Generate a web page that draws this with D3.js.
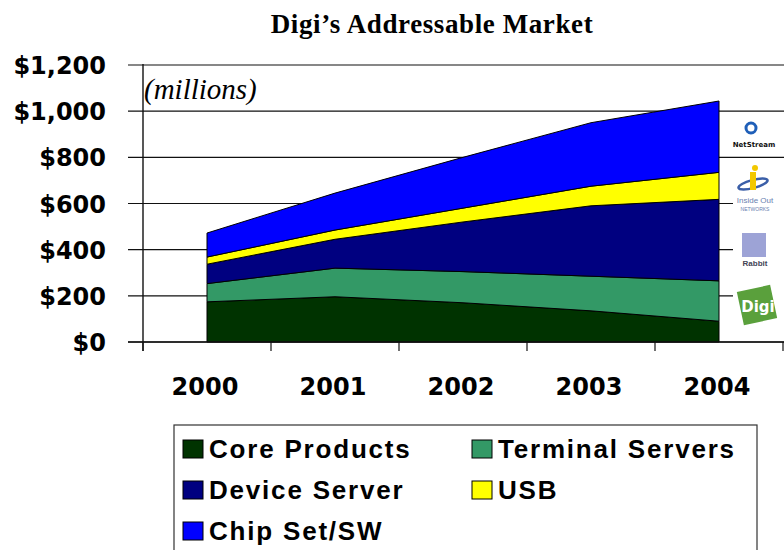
<!DOCTYPE html>
<html>
<head>
<meta charset="utf-8">
<script src="https://cdn.jsdelivr.net/npm/d3@7"></script>
<style>
  body { margin: 0; background: #fff; }
  svg { display: block; }
</style>
</head>
<body>
<svg width="784" height="550"></svg>
<script>
// values, $ millions
const years = ["2000", "2001", "2002", "2003", "2004"];
const coreProducts = [174, 196, 170, 135, 90];
const terminalServers = [79, 124, 135, 150, 175];
const deviceServer = [84, 125, 215, 305, 353];
const usb = [31, 40, 60, 85, 117];
const chipSetSW = [104, 160, 220, 275, 309];
const yTicks = [0, 200, 400, 600, 800, 1000, 1200];
const seriesNames = ["Core Products", "Terminal Servers", "Device Server", "USB", "Chip Set/SW"];
const seriesColors = ["#003300", "#339966", "#000080", "#ffff00", "#0000ff"];

const svg = d3.select("svg");

// rows for d3.stack
const rows = years.map((y, i) => ({
  year: y,
  "Core Products": coreProducts[i],
  "Terminal Servers": terminalServers[i],
  "Device Server": deviceServer[i],
  "USB": usb[i],
  "Chip Set/SW": chipSetSW[i]
}));

const x = d3.scaleBand().domain(years).range([143, 783]);
const y = d3.scaleLinear().domain([0, 1200]).range([342, 65]);
const xc = d => x(d.data.year) + x.bandwidth() / 2;

// title
svg.append("text")
  .attr("x", 432).attr("y", 33)
  .attr("text-anchor", "middle")
  .style("font-family", "'Liberation Serif', 'Times New Roman', serif")
  .style("font-weight", "bold")
  .style("font-size", "27px")
  .style("letter-spacing", "0.6px")
  .text("Digi\u2019s Addressable Market");

// gridlines + left tick marks
svg.append("g").selectAll("line")
  .data(yTicks)
  .enter().append("line")
  .attr("x1", 128).attr("x2", 784)
  .attr("y1", d => y(d)).attr("y2", d => y(d))
  .attr("stroke", "#111").attr("stroke-width", 1.2);

// y labels
svg.append("g").selectAll("text")
  .data(yTicks)
  .enter().append("text")
  .attr("x", 106).attr("y", d => y(d) + 9)
  .attr("text-anchor", "end")
  .style("font-family", "'DejaVu Sans', sans-serif")
  .style("font-weight", "bold")
  .style("font-size", "24px")
  .text(d => d3.format("$,")(d));

// stacked areas
const stack = d3.stack().keys(seriesNames)(rows);
const area = d3.area()
  .x(xc)
  .y0(d => y(d[0]))
  .y1(d => y(d[1]));

svg.append("g").selectAll("path")
  .data(stack)
  .enter().append("path")
  .attr("d", area)
  .attr("fill", (d, i) => seriesColors[i])
  .attr("stroke", "#000")
  .attr("stroke-width", 1);

// logo panel at the right edge (covers part of the grid)
const logos = svg.append("g");
logos.append("rect")
  .attr("x", 733).attr("y", 164).attr("width", 51).attr("height", 176)
  .attr("fill", "#fff");
// NetStream
logos.append("circle").attr("cx", 751).attr("cy", 128).attr("r", 5)
  .attr("fill", "none").attr("stroke", "#1f5fb8").attr("stroke-width", 3);
logos.append("text").attr("x", 754).attr("y", 147).attr("text-anchor", "middle")
  .style("font-family", "'DejaVu Sans', sans-serif").style("font-weight", "bold")
  .style("font-size", "7px").attr("fill", "#111").text("NetStream");
// Inside Out Networks
logos.append("ellipse").attr("cx", 753).attr("cy", 184).attr("rx", 15).attr("ry", 4)
  .attr("fill", "none").attr("stroke", "#3b5fa8").attr("stroke-width", 2.5)
  .attr("transform", "rotate(-15 753 184)");
logos.append("rect").attr("x", 750).attr("y", 172).attr("width", 6).attr("height", 18)
  .attr("fill", "#f2c800");
logos.append("circle").attr("cx", 755).attr("cy", 168).attr("r", 3).attr("fill", "#f2c800");
logos.append("text").attr("x", 755).attr("y", 203).attr("text-anchor", "middle")
  .style("font-family", "'Liberation Sans', sans-serif")
  .style("font-size", "8px").attr("fill", "#6a7fb0").text("Inside Out");
logos.append("text").attr("x", 755).attr("y", 211).attr("text-anchor", "middle")
  .style("font-family", "'Liberation Sans', sans-serif")
  .style("font-size", "5px").attr("fill", "#6a7fb0").text("NETWORKS");
// square logo
logos.append("rect").attr("x", 742).attr("y", 233).attr("width", 24).attr("height", 24)
  .attr("fill", "#9da3d6");
logos.append("text").attr("x", 755).attr("y", 266).attr("text-anchor", "middle")
  .style("font-family", "'Liberation Sans', sans-serif").style("font-weight", "bold")
  .style("font-size", "8px").attr("fill", "#445").text("Rabbit");
// Digi
logos.append("rect").attr("x", 740).attr("y", 288).attr("width", 34).attr("height", 34)
  .attr("fill", "#5aa03c").attr("transform", "rotate(-12 757 305)");
logos.append("text").attr("x", 758).attr("y", 312).attr("text-anchor", "middle")
  .style("font-family", "'DejaVu Sans', sans-serif").style("font-weight", "bold")
  .style("font-size", "15px").attr("fill", "#fff").text("Digi");

// axes lines
svg.append("line").attr("x1", 143).attr("x2", 143).attr("y1", 64).attr("y2", 351)
  .attr("stroke", "#111").attr("stroke-width", 1.4);
svg.append("line").attr("x1", 128).attr("x2", 784).attr("y1", y(0)).attr("y2", y(0))
  .attr("stroke", "#111").attr("stroke-width", 1.4);

// x tick marks at category boundaries
const bounds = years.map(d => x(d)).concat([x.range()[1]]);
svg.append("g").selectAll("line")
  .data(bounds)
  .enter().append("line")
  .attr("x1", d => d).attr("x2", d => d)
  .attr("y1", y(0)).attr("y2", y(0) + 9)
  .attr("stroke", "#111").attr("stroke-width", 1.2);

// x labels
svg.append("g").selectAll("text")
  .data(years)
  .enter().append("text")
  .attr("x", d => x(d) + x.bandwidth() / 2 - 2)
  .attr("y", 395)
  .attr("text-anchor", "middle")
  .style("font-family", "'DejaVu Sans', sans-serif")
  .style("font-weight", "bold")
  .style("font-size", "24px")
  .text(d => d);

// (millions)
svg.append("text")
  .attr("x", 144).attr("y", 99)
  .style("font-family", "'Liberation Serif', 'Times New Roman', serif")
  .style("font-style", "italic")
  .style("font-size", "29px")
  .text("(millions)");

// legend
const legend = svg.append("g");
legend.append("rect")
  .attr("x", 174).attr("y", 425).attr("width", 583).attr("height", 140)
  .attr("fill", "#fff").attr("stroke", "#333").attr("stroke-width", 1.2);

const legendPos = [[183, 458], [472, 458], [183, 499], [472, 499], [183, 540]];
const items = legend.selectAll("g.item")
  .data(seriesNames)
  .enter().append("g")
  .attr("class", "item")
  .attr("transform", (d, i) => `translate(${legendPos[i][0]},${legendPos[i][1]})`);

items.append("rect")
  .attr("x", 0).attr("y", -18).attr("width", 20).attr("height", 18)
  .attr("fill", (d, i) => seriesColors[i])
  .attr("stroke", "#000").attr("stroke-width", 1);

items.append("text")
  .attr("x", 26).attr("y", 0)
  .style("font-family", "'Liberation Sans', Arial, sans-serif")
  .style("font-weight", "bold")
  .style("font-size", "26px")
  .style("letter-spacing", "1.8px")
  .text(d => d);
</script>
</body>
</html>
